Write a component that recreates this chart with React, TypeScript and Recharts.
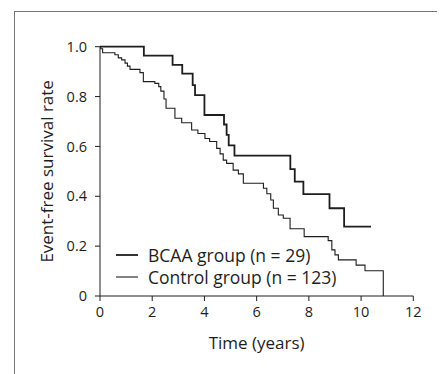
import { Label, Line, LineChart, XAxis, YAxis } from "recharts";

// Kaplan-Meier steps: time (years) -> survival after the drop
const BCAA_TIME = [0, 1.68, 2.78, 3.15, 3.55, 3.64, 4.0, 4.75, 4.85, 4.93, 5.15, 7.29, 7.46, 7.79, 8.79, 9.35, 10.38];
const BCAA_SURV = [1.0, 0.964, 0.927, 0.892, 0.846, 0.806, 0.726, 0.688, 0.646, 0.604, 0.563, 0.509, 0.459, 0.409, 0.352, 0.278, 0.278];

const CONTROL_TIME = [
  0, 0.03, 0.1, 0.57, 0.7, 0.83, 0.96, 1.05, 1.15, 1.53, 1.66, 2.1, 2.25, 2.33, 2.45, 2.53, 2.87, 3.13, 3.51, 3.75,
  4.02, 4.2, 4.47, 4.6, 4.72, 4.85, 5.1, 5.3, 5.49, 6.26, 6.39, 6.54, 6.64, 6.83, 7.02, 7.28, 7.82, 8.74, 8.88, 9.0,
  9.13, 9.81, 10.15, 10.85
];
const CONTROL_SURV = [
  1.0, 0.992, 0.976, 0.968, 0.955, 0.947, 0.934, 0.922, 0.909, 0.896, 0.86, 0.853, 0.84, 0.822, 0.79, 0.753, 0.713,
  0.695, 0.666, 0.652, 0.632, 0.62, 0.592, 0.57, 0.545, 0.532, 0.505, 0.49, 0.452, 0.432, 0.41, 0.385, 0.352, 0.325,
  0.312, 0.27, 0.238, 0.222, 0.185, 0.165, 0.145, 0.124, 0.101, 0
];

const X_TICKS = [0, 2, 4, 6, 8, 10, 12];
const Y_TICKS = [0, 0.2, 0.4, 0.6, 0.8, 1.0];

const SERIES = [
  { name: "BCAA group (n = 29)", width: 1.8 },
  { name: "Control group (n = 123)", width: 1.1 }
];

const bcaaData = BCAA_TIME.map((t, i) => ({ t, s: BCAA_SURV[i] }));
const controlData = CONTROL_TIME.map((t, i) => ({ t, s: CONTROL_SURV[i] }));

const FONT = "'Open Sans', sans-serif";
const INK = "#1e1e1e";

// drawn outside recharts' Legend so it doesn't eat into the plot offset
function KmLegend() {
  return (
    <div
      style={{
        position: "absolute",
        left: 108,
        top: 236,
        fontFamily: FONT,
        fontSize: 17.5,
        color: INK,
        lineHeight: "22px"
      }}
    >
      {SERIES.map((s) => (
        <div key={s.name} style={{ display: "flex", alignItems: "center" }}>
          <svg width={32} height={22}>
            <line x1={0} x2={22} y1={11} y2={11} stroke={INK} strokeWidth={s.width} />
          </svg>
          <span>{s.name}</span>
        </div>
      ))}
    </div>
  );
}

export default function App() {
  return (
    <div style={{ position: "relative", width: 437, height: 366 }}>
      <style>{"html,body{overflow:hidden}"}</style>
      <div
        style={{
          position: "absolute",
          left: 6,
          top: 3,
          width: 430,
          height: 363,
          boxSizing: "border-box",
          borderLeft: "1px solid #777",
          borderTop: "1px solid #777",
          borderRight: "1px solid #777"
        }}
      />
      <LineChart width={437} height={366} margin={{ top: 38.7, right: 31.7, bottom: 22, left: 32 }}>
        <XAxis
          dataKey="t"
          type="number"
          domain={[0, 12]}
          ticks={X_TICKS}
          height={56}
          stroke={INK}
          tickSize={5}
          tickMargin={6}
          tick={{ fill: INK, fontSize: 14.5, fontFamily: FONT }}
          allowDuplicatedCategory={false}
        >
          <Label value="Time (years)" position="insideBottom" offset={3} style={{ fill: INK, fontSize: 17, fontFamily: FONT }} />
        </XAxis>
        <YAxis
          dataKey="s"
          type="number"
          domain={[0, 1]}
          ticks={Y_TICKS}
          width={60}
          stroke={INK}
          tickSize={5}
          tickMargin={8}
          tickFormatter={(v: number) => (v === 0 ? "0" : v.toFixed(1))}
          tick={{ fill: INK, fontSize: 14.5, fontFamily: FONT }}
        >
          <Label
            value="Event-free survival rate"
            angle={-90}
            position="insideLeft"
            offset={7}
            style={{ fill: INK, fontSize: 17, fontFamily: FONT, textAnchor: "middle" }}
          />
        </YAxis>
        <Line
          data={bcaaData}
          dataKey="s"
          name={SERIES[0].name}
          type="stepAfter"
          stroke={INK}
          strokeWidth={SERIES[0].width}
          dot={false}
          isAnimationActive={false}
        />
        <Line
          data={controlData}
          dataKey="s"
          name={SERIES[1].name}
          type="stepAfter"
          stroke={INK}
          strokeWidth={SERIES[1].width}
          dot={false}
          isAnimationActive={false}
        />
      </LineChart>
      <KmLegend />
    </div>
  );
}
